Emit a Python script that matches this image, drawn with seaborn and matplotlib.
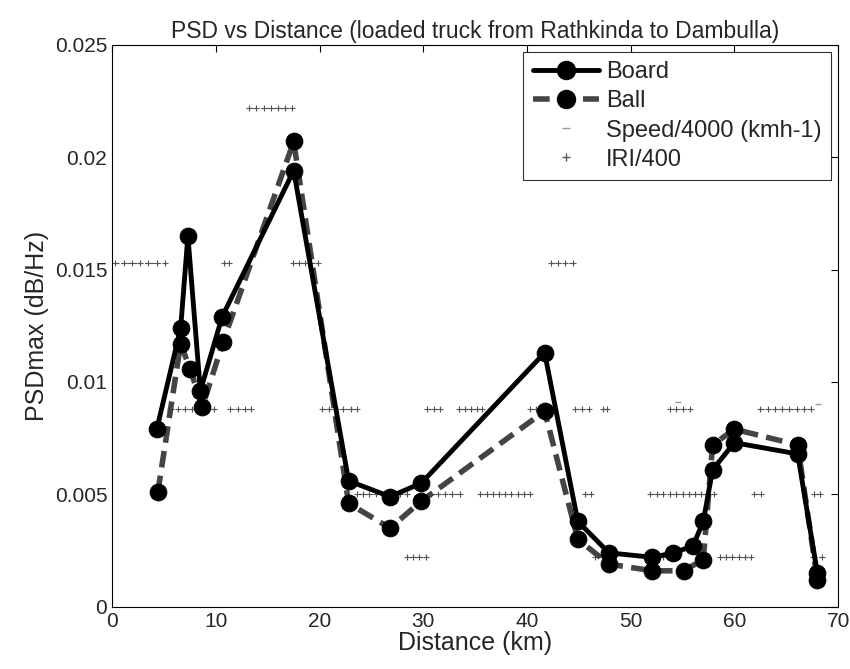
import numpy as np
import matplotlib
matplotlib.use("Agg")
import matplotlib.pyplot as plt
import seaborn as sns
from matplotlib.lines import Line2D

# PSDmax
board_km = [4.3, 6.6, 7.3, 8.5, 10.6, 17.5, 22.8, 26.8, 29.8, 41.7, 44.9, 47.9, 52.1,
            54.1, 56.0, 57.0, 57.9, 60.0, 66.1, 68.0]
board_psd = [0.0079, 0.0124, 0.0165, 0.0096, 0.0129, 0.0194, 0.0056, 0.0049, 0.0055,
             0.0113, 0.0038, 0.0024, 0.0022, 0.0024, 0.0027, 0.0038, 0.0061, 0.0073,
             0.0068, 0.0015]

ball_km = [4.4, 6.6, 7.5, 8.7, 10.7, 17.5, 22.8, 26.8, 29.8, 41.7, 44.9, 47.9, 52.1,
           55.1, 57.0, 57.9, 60.0, 66.1, 68.0]
ball_psd = [0.0051, 0.0117, 0.0106, 0.0089, 0.0118, 0.0207, 0.0046, 0.0035, 0.0047,
            0.0087, 0.0030, 0.0019, 0.0016, 0.0016, 0.0021, 0.0072, 0.0079, 0.0072,
            0.0012]

speed_km = [54.6, 68.1]
speed_val = [0.0091, 0.0090]

# IRI/400, runs separated by None
iri_km = [0.3, 1.1, 1.9, 2.7, 3.5, 4.3, 5.1, None,
          10.8, 11.3, None,
          17.4, 18.0, 18.6, 19.2, 19.8, None,
          13.2, 13.9, 14.6, 15.3, 16.0, 16.7, 17.3, None,
          42.3, 43.0, 43.7, 44.4, None,
          5.6, 6.3, 7.0, 7.7, 8.4, 9.1, 9.8, None,
          11.4, 12.1, 12.8, 13.4, None,
          20.2, 20.9, 21.6, 22.3, 23.0, 23.6, None,
          30.4, 31.0, 31.6, None,
          33.4, 34.0, 34.6, 35.2, 35.7, None,
          40.3, 40.9, 41.5, 42.2, None,
          44.6, 45.3, 46.0, None,
          47.3, 47.7, None,
          53.8, 54.4, 55.0, 55.7, None,
          62.5, 63.2, 63.9, 64.6, 65.3, 66.0, 66.7, 67.4, None,
          23.6, 24.2, 24.8, 25.4, 26.0, 26.6, 27.2, 27.8, 28.4, None,
          30.7, 31.4, 32.1, 32.8, 33.5, None,
          35.5, 36.1, 36.7, 37.3, 37.9, 38.5, 39.1, 39.7, 40.3, None,
          45.6, 46.2, None,
          51.9, 52.5, 53.1, None,
          53.8, 54.4, 55.0, None,
          55.6, 56.2, 56.8, 57.4, 58.0, None,
          61.9, 62.6, None,
          67.7, 68.3, None,
          28.4, 29.0, 29.6, 30.3, None,
          46.6, 47.2, 47.7, None,
          52.6, 53.1, None,
          58.6, 59.2, 59.8, 60.4, 61.0, 61.6, None,
          67.6, 68.4]
iri_val = [0.0153] * 8 + [0.0153] * 3 + [0.0153] * 6 + [0.0222] * 8 + [0.0153] * 5 \
    + [0.0088] * 8 + [0.0088] * 5 + [0.0088] * 7 + [0.0088] * 4 + [0.0088] * 6 \
    + [0.0088] * 5 + [0.0088] * 4 + [0.0088] * 3 + [0.0088] * 5 + [0.0088] * 9 \
    + [0.0050] * 10 + [0.0050] * 6 + [0.0050] * 10 + [0.0050] * 3 + [0.0050] * 4 \
    + [0.0050] * 4 + [0.0050] * 6 + [0.0050] * 3 + [0.0050] * 3 \
    + [0.0022] * 5 + [0.0022] * 4 + [0.0022] * 3 + [0.0022] * 7 + [0.0022] * 2
iri_val = [np.nan if d is None else v for d, v in zip(iri_km, iri_val)]
iri_km = [np.nan if d is None else d for d in iri_km]

sns.set_style("white")
plt.rcParams["font.family"] = ["Liberation Sans", "DejaVu Sans"]

fig = plt.figure(figsize=(8.5, 6.69), dpi=100)
ax = fig.add_axes([0.132, 0.093, 0.854, 0.840])

ax.plot(iri_km, iri_val, linestyle="--", marker="+", color="#555555",
        lw=0.8, markersize=5, mew=0.8, zorder=1)
ax.plot(speed_km, speed_val, linestyle="none", marker="_", color="#999999",
        markersize=5, zorder=1)

sns.lineplot(x=ball_km, y=ball_psd, sort=False, ax=ax, color="#444444", lw=4,
             linestyle=(0, (3, 1.5)), marker="o", markersize=12,
             markerfacecolor="black", markeredgecolor="black", zorder=3)
sns.lineplot(x=board_km, y=board_psd, sort=False, ax=ax, color="black", lw=3.5,
             marker="o", markersize=12, markerfacecolor="black",
             markeredgecolor="black", zorder=4)

ax.set_xlim(0, 70)
ax.set_ylim(0, 0.025)
ax.set_xticks(range(0, 71, 10))
ax.set_yticks([0, 0.005, 0.01, 0.015, 0.02, 0.025])
ax.set_yticklabels(["0", "0.005", "0.01", "0.015", "0.02", "0.025"])
ax.tick_params(direction="in", length=5, labelsize=15, top=True, right=True,
               color="black")
for s in ax.spines.values():
    s.set_color("black")
    s.set_linewidth(0.8)

ax.set_title("PSD vs Distance (loaded truck from Rathkinda to Dambulla)",
             fontsize=16.5, pad=5)
ax.set_xlabel("Distance (km)", fontsize=18, labelpad=0)
ax.set_ylabel("PSDmax (dB/Hz)", fontsize=18, labelpad=4)

handles = [
    Line2D([], [], color="black", lw=3.5, marker="o", markersize=13),
    Line2D([], [], color="#444444", lw=4, linestyle=(0, (3, 1.5)), marker="o",
           markersize=13, markerfacecolor="black", markeredgecolor="black"),
    Line2D([], [], color="#999999", linestyle="none", marker="_", markersize=6),
    Line2D([], [], color="#555555", linestyle="none", marker="+", markersize=6),
]
labels = ["Board", "Ball", "Speed/4000 (kmh-1)", "IRI/400"]
leg = ax.legend(handles, labels, loc="upper right", fontsize=17, frameon=True,
                fancybox=False, edgecolor="black", handlelength=2.8,
                borderaxespad=0.3, labelspacing=0.3, handletextpad=0.3,
                borderpad=0.4)
leg.get_frame().set_linewidth(0.8)

fig.savefig("out.png", dpi=100)
